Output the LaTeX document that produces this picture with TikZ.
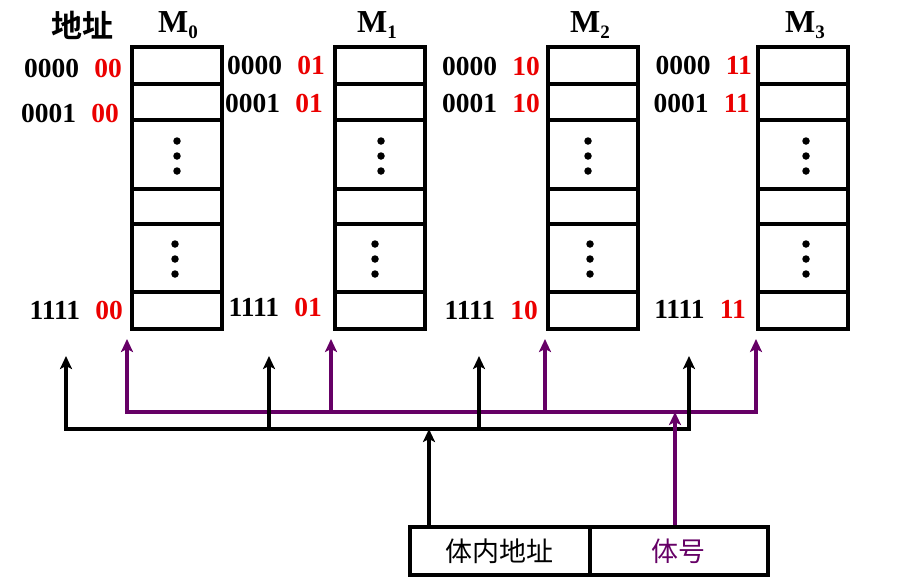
\documentclass[tikz,border=0pt]{standalone}
\usepackage{fontspec}
\setmainfont{Liberation Serif}
\newfontfamily\cjk{Noto Sans CJK SC}
\newfontfamily\cjkb{Noto Sans CJK SC Bold}
\usetikzlibrary{arrows.meta}
\definecolor{bankpurple}{RGB}{102,0,102}
\definecolor{addrred}{RGB}{235,0,0}
\tikzset{
  >={Stealth[length=13pt,width=12pt,inset=3pt]},
  cell/.style={draw, line width=3.7pt, anchor=north west, inner sep=0pt, minimum width=90pt},
  vdot/.style={circle, fill, inner sep=0pt, minimum size=7.5pt},
  addrlbl/.style={anchor=east, inner sep=0pt, font=\bfseries\fontsize{27.5}{30}\selectfont},
  title/.style={inner sep=0pt, font=\bfseries\fontsize{32}{32}\selectfont},
  bus/.style={line width=3.6pt},
  arr/.style={line width=3.4pt, ->},
  fieldbox/.style={draw, line width=3.7pt, inner sep=0pt, minimum height=48pt, font=\cjk\fontsize{27}{30}\selectfont},
}
\newcommand{\msub}[1]{M{\fontsize{19}{19}\selectfont\raisebox{-6pt}{#1}}}
\newcommand{\adr}[2]{#1\hspace{0.55em}\textcolor{addrred}{#2}}
\begin{document}
\begin{tikzpicture}[x=1pt,y=-1pt]
\useasboundingbox (0,0) rectangle (908,582);
% memory banks
\foreach \i/\x/\da/\db in {0/130/177/175, 1/333/381/375, 2/546/588/590, 3/756/806/806} {
  \node[cell, minimum height=37pt] (m\i-1) at (\x,45) {};
  \node[cell, minimum height=36pt] (m\i-2) at (\x,82) {};
  \node[cell, minimum height=69pt] (m\i-3) at (\x,118) {};
  \node[cell, minimum height=35pt] (m\i-4) at (\x,187) {};
  \node[cell, minimum height=68pt] (m\i-5) at (\x,222) {};
  \node[cell, minimum height=37pt] (m\i-6) at (\x,290) {};
  \node[vdot] (d\i-1) at (\da,141) {};
  \node[vdot] (d\i-2) at (\da,156) {};
  \node[vdot] (d\i-3) at (\da,171) {};
  \node[vdot] (d\i-4) at (\db,244) {};
  \node[vdot] (d\i-5) at (\db,259) {};
  \node[vdot] (d\i-6) at (\db,274) {};
}
% titles
\node[font=\cjkb\fontsize{31}{31}\selectfont, inner sep=0pt] (dz) at (82,25) {地址};
\node[title] (t0) at (178,25) {\msub{0}};
\node[title] (t1) at (377,25) {\msub{1}};
\node[title] (t2) at (590,25) {\msub{2}};
\node[title] (t3) at (805,25) {\msub{3}};
% address labels
\node[addrlbl] (l0a) at (122,68) {\adr{0000}{00}};
\node[addrlbl] (l0b) at (119,113) {\adr{0001}{00}};
\node[addrlbl] (l0c) at (123,310) {\adr{1111}{00}};
\node[addrlbl] (l1a) at (325,65) {\adr{0000}{01}};
\node[addrlbl] (l1b) at (323,103) {\adr{0001}{01}};
\node[addrlbl] (l1c) at (322,307) {\adr{1111}{01}};
\node[addrlbl] (l2a) at (540,66) {\adr{0000}{10}};
\node[addrlbl] (l2b) at (540,103) {\adr{0001}{10}};
\node[addrlbl] (l2c) at (538,310) {\adr{1111}{10}};
\node[addrlbl] (l3a) at (752,65) {\adr{0000}{11}};
\node[addrlbl] (l3b) at (750,103) {\adr{0001}{11}};
\node[addrlbl] (l3c) at (746,309) {\adr{1111}{11}};
% address register
\node[fieldbox, minimum width=180pt, anchor=north west] (addr) at (408,525) {体内地址};
\node[fieldbox, minimum width=178pt, anchor=north west, text=bankpurple] (bank) at (588,525) {体号};
% coordinates for connectors
\coordinate (ka) at (429,525);
\coordinate (kb) at (429,429);
\coordinate (pa) at (675,525);
\coordinate (pb) at (675,412);
\coordinate (bl) at (66,429);
\coordinate (br) at (689,429);
\coordinate (b1) at (269,429);
\coordinate (b2) at (479,429);
\coordinate (pl) at (127,412);
\coordinate (pr) at (756,412);
\coordinate (p1) at (331,412);
\coordinate (p2) at (545,412);
\coordinate (e0) at (66,356);
\coordinate (e1) at (269,356);
\coordinate (e2) at (479,356);
\coordinate (e3) at (689,356);
\coordinate (f0) at (127,339);
\coordinate (f1) at (331,339);
\coordinate (f2) at (545,339);
\coordinate (f3) at (756,339);
% purple bus
\draw[bus, bankpurple, <->] (f0) -- (pl) -- (pr) -- (f3);
\draw[arr, bankpurple] (p1) -- (f1);
\draw[arr, bankpurple] (p2) -- (f2);
% black bus
\draw[bus, <->] (e0) -- (bl) -- (br) -- (e3);
\draw[arr] (b1) -- (e1);
\draw[arr] (b2) -- (e2);
\draw[arr] (ka) -- (kb);
% bank-number line
\draw[arr, bankpurple] (pa) -- (pb);
\end{tikzpicture}
\end{document}
